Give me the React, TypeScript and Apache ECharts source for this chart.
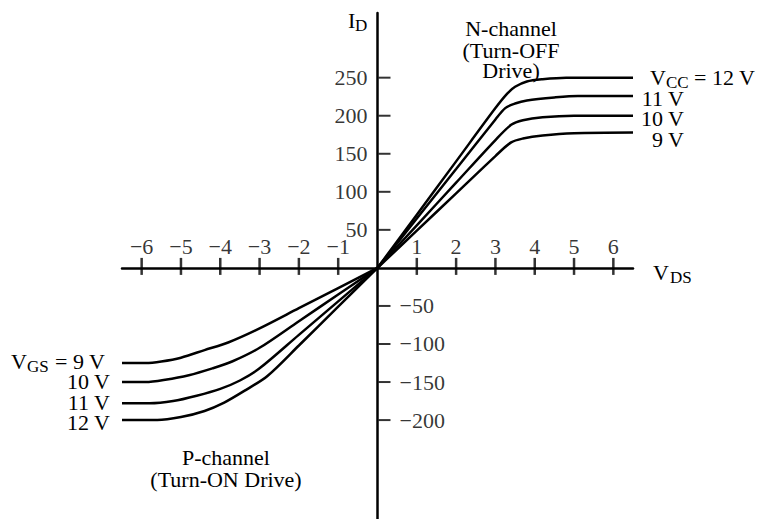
import React, { useEffect, useRef } from "react";
import * as echarts from "echarts";

const xTicks = [-6, -5, -4, -3, -2, -1, 1, 2, 3, 4, 5, 6];
const yPosTicks = [50, 100, 150, 200, 250];
const yNegTicks = [-50, -100, -150, -200];

// N-channel (Turn-OFF drive), VCC curves
const n12: number[][] = [[0, 0], [1, 70], [2, 140], [3, 210], [3.3, 229], [3.5, 238], [3.8, 245], [4.2, 248], [4.8, 250], [6.5, 250]];
const n11: number[][] = [[0, 0], [1, 65], [2, 130], [3, 195], [3.25, 210], [3.5, 216], [3.8, 220], [4.5, 224], [5.1, 226], [6.5, 226]];
const n10: number[][] = [[0, 0], [1, 56], [2, 112], [3, 168], [3.4, 188], [3.7, 194], [4.2, 198], [5, 200], [6.5, 200]];
const n9: number[][] = [[0, 0], [1, 49], [2, 98], [3, 147], [3.4, 165], [3.7, 170], [4.2, 174], [5, 177], [6.5, 178]];

// P-channel (Turn-ON drive), VGS curves
const p9: number[][] = [[0, 0], [-1, -26.5], [-2, -53], [-3, -79.5], [-3.8, -98], [-4.4, -108], [-5, -118], [-5.5, -123], [-5.9, -125], [-6.5, -125]];
const p10: number[][] = [[0, 0], [-1, -35], [-2, -70], [-3, -105], [-3.7, -123], [-4.2, -132], [-4.8, -141], [-5.4, -147], [-5.9, -150], [-6.5, -150]];
const p11: number[][] = [[0, 0], [-1, -44], [-2, -88], [-3, -132], [-3.5, -148], [-4, -159], [-4.6, -168], [-5.2, -175], [-5.8, -178], [-6.5, -178]];
const p12: number[][] = [[0, 0], [-1, -51], [-2, -102], [-2.8, -142], [-3.4, -162], [-3.9, -177], [-4.4, -188], [-5, -196], [-5.6, -200], [-6.5, -200]];

const FONT = "Liberation Serif";
const FS = 22;
const SUB = 17;
const fmt = (v: number) => (v < 0 ? "\u2212" + Math.abs(v) : String(v));

export default function App() {
  const ref = useRef<HTMLDivElement>(null);
  useEffect(() => {
    if (!ref.current) return;
    const chart = echarts.init(ref.current, undefined, { renderer: "svg" });
    const lineStyle = { color: "#000", width: 2.5 };
    const mk = (name: string, data: number[][]) => ({
      name,
      type: "line",
      data,
      symbol: "none",
      smooth: 0.3,
      lineStyle,
      silent: true,
    });
    const labelBase = { color: "#000", fontFamily: FONT, fontSize: FS };
    const t = (text: string, x: number, y: number, size = FS, align = "left") => ({
      type: "text",
      x,
      y,
      style: {
        text,
        fill: "#000",
        fontFamily: FONT,
        fontSize: size,
        textAlign: align,
        textVerticalAlign: "middle",
        verticalAlign: "middle",
      },
    });
    chart.setOption({
      animation: false,
      backgroundColor: "#fff",
      grid: { left: 122, right: 131, top: 13, bottom: 0, containLabel: false, outerBoundsMode: "none" },
      xAxis: {
        type: "value",
        min: -6.5,
        max: 6.5,
        axisLine: { onZero: true, lineStyle: { color: "#000", width: 2.5 } },
        axisTick: { show: false },
        axisLabel: { show: false },
        splitLine: { show: false },
      },
      yAxis: {
        type: "value",
        min: -330,
        max: 335,
        axisLine: { onZero: true, lineStyle: { color: "#000", width: 2.5 } },
        axisTick: { show: false },
        axisLabel: { show: false },
        splitLine: { show: false },
      },
      series: [
        mk("VCC = 12 V", n12),
        mk("11 V", n11),
        mk("10 V", n10),
        mk("9 V", n9),
        mk("VGS = 9 V", p9),
        mk("10 V ", p10),
        mk("11 V ", p11),
        mk("12 V ", p12),
        {
          name: "xTicks",
          type: "scatter",
          silent: true,
          symbol: "rect",
          symbolSize: [2.5, 17],
          symbolOffset: [0, -1.5],
          itemStyle: { color: "#000" },
          data: xTicks.map((v) => [v, 0]),
          label: {
            show: true,
            position: "top",
            distance: 0,
            formatter: (p: any) => fmt(p.value[0]),
            ...labelBase,
          },
        },
        {
          name: "yPosTicks",
          type: "scatter",
          silent: true,
          symbol: "rect",
          symbolSize: [12, 2],
          symbolOffset: [7, 0],
          itemStyle: { color: "#000" },
          data: yPosTicks.map((v) => [0, v]),
          label: {
            show: true,
            position: "left",
            distance: 11,
            formatter: (p: any) => fmt(p.value[1]),
            ...labelBase,
          },
        },
        {
          name: "yNegTicks",
          type: "scatter",
          silent: true,
          symbol: "rect",
          symbolSize: [12, 2],
          symbolOffset: [7, 0],
          itemStyle: { color: "#000" },
          data: yNegTicks.map((v) => [0, v]),
          label: {
            show: true,
            position: "right",
            distance: 9,
            formatter: (p: any) => fmt(p.value[1]),
            ...labelBase,
          },
        },
      ],
      graphic: [
        t("I", 348, 20),
        t("D", 355, 25, SUB),
        t("V", 653, 272),
        t("DS", 670, 277, SUB),
        t("N-channel", 511, 28, FS, "center"),
        t("(Turn-OFF", 511, 50, FS, "center"),
        t("Drive)", 511, 70, FS, "center"),
        t("P-channel", 226, 457, FS, "center"),
        t("(Turn-ON Drive)", 226, 479, FS, "center"),
        t("V", 650, 77),
        t("CC", 666, 82, SUB),
        t("= 12 V", 694, 77),
        t("11 V", 684, 98, FS, "right"),
        t("10 V", 684, 118, FS, "right"),
        t("9 V", 684, 139, FS, "right"),
        t("V", 11, 361),
        t("GS", 27, 366, SUB),
        t("= 9 V", 55, 361),
        t("10 V", 110, 381, FS, "right"),
        t("11 V", 110, 402, FS, "right"),
        t("12 V", 110, 422, FS, "right"),
      ],
    });
    return () => chart.dispose();
  }, []);
  return (
    <div
      ref={ref}
      style={{ position: "fixed", left: 0, top: 0, width: 764, height: 519, background: "#fff" }}
    />
  );
}
